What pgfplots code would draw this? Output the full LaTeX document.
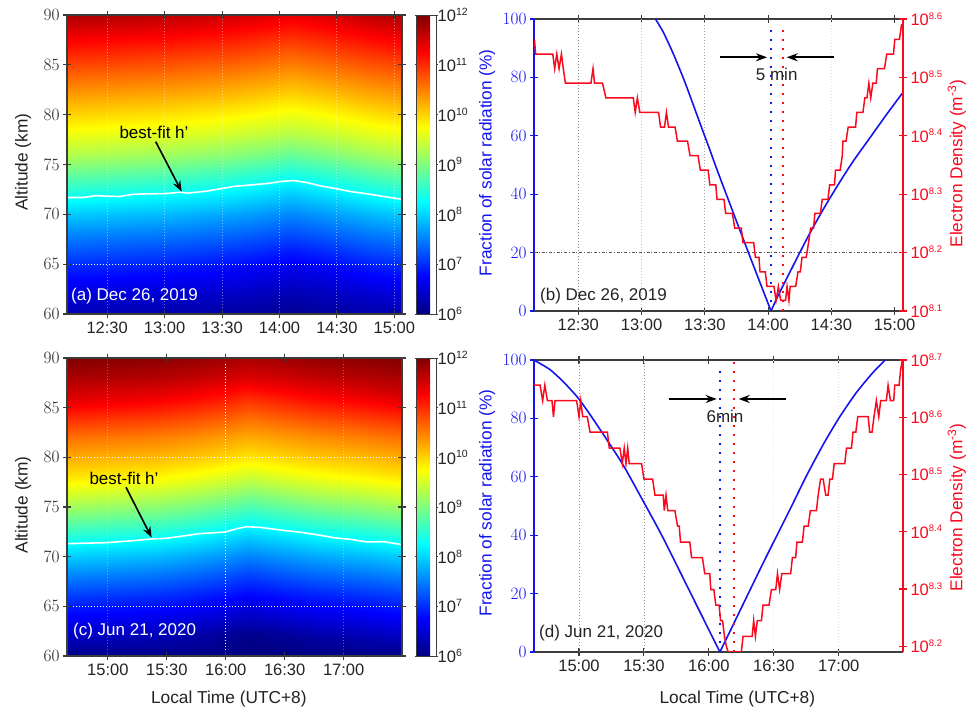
\documentclass[border=0pt]{standalone}
\usepackage{fontspec}
\setmainfont{Liberation Sans}
\usepackage{pgfplots}
\pgfplotsset{compat=1.18}
\usetikzlibrary{arrows.meta}
\definecolor{ink}{RGB}{35,35,35}
\definecolor{frame}{RGB}{60,60,60}
\definecolor{cblue}{RGB}{20,20,240}
\definecolor{cred}{RGB}{250,10,30}
\newcommand{\sx}[1]{10\textsuperscript{\fontsize{10.5}{11}\selectfont #1}}
\newcommand{\sr}[1]{10\textsuperscript{\fontsize{9.5}{10}\selectfont #1}}
\pgfplotsset{
  base/.style={scale only axis, anchor=south west,
    tick align=center, major tick length=8pt,
    every tick label/.append style={font=\fontsize{16.5}{18}\selectfont, text=ink},
    label style={font=\fontsize{17.3}{19}\selectfont},
    tick style={line width=1.1pt, color=frame},
    axis line style={line width=1.3pt, color=frame},
  },
  heat/.style={base, view={0}{90}, colormap/jet, point meta min=6, point meta max=12,
    ymin=60, ymax=90, ytick={60,65,...,90},
    ylabel={Altitude (km)},
    y label style={at={(axis description cs:-0.131,0.508)},anchor=center,text=ink},
    enlargelimits=false, axis on top,
    colorbar,
    colorbar style={scale only axis, at={(1.0418,0)}, anchor=south west, width=20pt,
      ytick={6,7,...,12},
      yticklabels={\sx{6},\sx{7},\sx{8},\sx{9},\sx{10},\sx{11},\sx{12}},
      yticklabel style={font=\fontsize{16.5}{18}\selectfont,text=ink,inner sep=0pt},
      tick align=outside, major tick length=1.5pt,
      axis line style={line width=0.8pt,color=frame}, tick style={line width=0.8pt,color=frame}},
  },
  frac/.style={base, axis y line*=left, xtick pos=both,
    ymin=0, ymax=100, ytick={0,20,...,100},
    ylabel={Fraction of solar radiation (\%)},
    y axis line style={color=cblue,line width=1.5pt},
    y tick style={color=cblue,line width=1.3pt},
    yticklabel style={text=cblue},
    ylabel style={text=cblue},
  },
  dens/.style={base, axis y line*=right, axis x line=none,
    y axis line style={color=cred,line width=1.2pt},
    y tick style={color=cred,line width=1.1pt},
    yticklabel style={text=cred, font=\fontsize{16.5}{18}\selectfont},
    ylabel={Electron Density (m\textsuperscript{-3})},
    ylabel style={text=cred},
  },
  gridf/.style={forget plot, line width=0.8pt, dash pattern=on 1pt off 2pt},
  wdot/.style={forget plot, white, line width=0.9pt, dash pattern=on 1pt off 2pt},
  vdot/.style={forget plot, line width=1.7pt, dash pattern=on 1.7pt off 7.3pt},
  bluecurve/.style={cblue, line width=1.6pt, forget plot, smooth, tension=0.4},
}
\begin{document}
\begin{tikzpicture}[x=1pt,y=1pt]
\path[use as bounding box] (0,0) rectangle (970,707);

% ---------- (a)
\begin{axis}[heat, at={(67pt,393pt)}, width=335pt, height=299pt,
  xmin=9, xmax=184, xtick={30,60,90,120,150,180},
  xticklabels={12:30,13:00,13:30,14:00,14:30,15:00},
  colorbar style={height=299pt}]
\addplot3[surf, shader=interp, mesh/cols=9] table[row sep=\\] {
x y z\\
9 60 6.30\\ 60 60 6.25\\ 90 60 6.20\\ 110 60 6.15\\ 126 60 6.10\\ 142 60 6.15\\ 155 60 6.20\\ 168 60 6.25\\ 184 60 6.30\\
9 62 6.55\\ 60 62 6.48\\ 90 62 6.42\\ 110 62 6.36\\ 126 62 6.30\\ 142 62 6.36\\ 155 62 6.42\\ 168 62 6.48\\ 184 62 6.55\\
9 64 6.85\\ 60 64 6.78\\ 90 64 6.70\\ 110 64 6.62\\ 126 64 6.55\\ 142 64 6.62\\ 155 64 6.70\\ 168 64 6.78\\ 184 64 6.85\\
9 66 7.20\\ 60 66 7.12\\ 90 66 7.03\\ 110 66 6.94\\ 126 66 6.85\\ 142 66 6.94\\ 155 66 7.03\\ 168 66 7.12\\ 184 66 7.20\\
9 68 7.55\\ 60 68 7.47\\ 90 68 7.38\\ 110 68 7.29\\ 126 68 7.20\\ 142 68 7.29\\ 155 68 7.38\\ 168 68 7.47\\ 184 68 7.55\\
9 70 7.95\\ 60 70 7.85\\ 90 70 7.75\\ 110 70 7.65\\ 126 70 7.55\\ 142 70 7.65\\ 155 70 7.75\\ 168 70 7.85\\ 184 70 7.95\\
9 72 8.40\\ 60 72 8.29\\ 90 72 8.18\\ 110 72 8.07\\ 126 72 7.95\\ 142 72 8.07\\ 155 72 8.18\\ 168 72 8.29\\ 184 72 8.40\\
9 74 8.85\\ 60 74 8.74\\ 90 74 8.62\\ 110 74 8.51\\ 126 74 8.40\\ 142 74 8.51\\ 155 74 8.62\\ 168 74 8.74\\ 184 74 8.85\\
9 76 9.30\\ 60 76 9.19\\ 90 76 9.08\\ 110 76 8.97\\ 126 76 8.85\\ 142 76 8.97\\ 155 76 9.08\\ 168 76 9.19\\ 184 76 9.30\\
9 78 9.65\\ 60 78 9.57\\ 90 78 9.48\\ 110 78 9.39\\ 126 78 9.30\\ 142 78 9.39\\ 155 78 9.48\\ 168 78 9.57\\ 184 78 9.65\\
9 80 10.00\\ 60 80 9.91\\ 90 80 9.82\\ 110 80 9.74\\ 126 80 9.65\\ 142 80 9.74\\ 155 80 9.82\\ 168 80 9.91\\ 184 80 10.00\\
9 82 10.33\\ 60 82 10.25\\ 90 82 10.17\\ 110 82 10.08\\ 126 82 10.00\\ 142 82 10.08\\ 155 82 10.17\\ 168 82 10.25\\ 184 82 10.33\\
9 84 10.67\\ 60 84 10.59\\ 90 84 10.50\\ 110 84 10.42\\ 126 84 10.33\\ 142 84 10.42\\ 155 84 10.50\\ 168 84 10.59\\ 184 84 10.67\\
9 86 11.02\\ 60 86 10.93\\ 90 86 10.85\\ 110 86 10.76\\ 126 86 10.67\\ 142 86 10.76\\ 155 86 10.85\\ 168 86 10.93\\ 184 86 11.02\\
9 88 11.36\\ 60 88 11.28\\ 90 88 11.19\\ 110 88 11.10\\ 126 88 11.02\\ 142 88 11.10\\ 155 88 11.19\\ 168 88 11.28\\ 184 88 11.36\\
9 90 11.75\\ 60 90 11.65\\ 90 90 11.55\\ 110 90 11.46\\ 126 90 11.36\\ 142 90 11.46\\ 155 90 11.55\\ 168 90 11.65\\ 184 90 11.75\\
};
\addplot3[wdot] coordinates {(9,65,12)(184,65,12)};
\foreach \tt in {30,60,90,120,150,180}{
  \edef\tmp{\noexpand\addplot3[wdot,opacity=0.45] coordinates {(\tt,60,12)(\tt,90,12)};}\tmp}
\addplot3[forget plot, white, line width=1.6pt] coordinates {
(9.2,71.69,12)(17.4,71.69,12)(23.5,71.86,12)(36.6,71.79,12)(43.6,72.02,12)(61,72.09,12)(68.9,72.22,12)(71.5,72.12,12)(82,72.33,12)(95.9,72.8,12)(113.4,73.09,12)(120.4,73.29,12)(127.3,73.39,12)(134.3,73.19,12)(141.3,72.86,12)(150,72.56,12)(157,72.29,12)(165.7,72.06,12)(174.4,71.79,12)(183.6,71.52,12)};
\end{axis}

% ---------- (c)
\begin{axis}[heat, at={(67pt,51pt)}, width=335pt, height=298pt,
  xmin=39.2, xmax=209.7, xtick={60,90,120,150,180,210},
  xticklabels={15:00,15:30,16:00,16:30,17:00,{}},
  xlabel={Local Time (UTC+8)},
  x label style={at={(axis description cs:0.483,-0.144)},anchor=center,text=ink},
  y label style={at={(axis description cs:-0.131,0.507)},anchor=center,text=ink},
  colorbar style={height=298pt}]
\addplot3[surf, shader=interp, mesh/cols=9] table[row sep=\\] {
x y z\\
39.2 60 6.05\\ 85 60 6.04\\ 105 60 6.02\\ 120 60 6.01\\ 132 60 6.00\\ 148 60 6.01\\ 165 60 6.02\\ 190 60 6.04\\ 209.7 60 6.05\\
39.2 62 6.40\\ 85 62 6.31\\ 105 62 6.22\\ 120 62 6.13\\ 132 62 6.05\\ 148 62 6.13\\ 165 62 6.22\\ 190 62 6.31\\ 209.7 62 6.40\\
39.2 64 6.75\\ 85 64 6.66\\ 105 64 6.58\\ 120 64 6.49\\ 132 64 6.40\\ 148 64 6.49\\ 165 64 6.58\\ 190 64 6.66\\ 209.7 64 6.75\\
39.2 66 7.10\\ 85 66 7.01\\ 105 66 6.92\\ 120 66 6.83\\ 132 66 6.75\\ 148 66 6.83\\ 165 66 6.92\\ 190 66 7.01\\ 209.7 66 7.10\\
39.2 68 7.50\\ 85 68 7.40\\ 105 68 7.30\\ 120 68 7.20\\ 132 68 7.10\\ 148 68 7.20\\ 165 68 7.30\\ 190 68 7.40\\ 209.7 68 7.50\\
39.2 70 7.95\\ 85 70 7.83\\ 105 70 7.72\\ 120 70 7.61\\ 132 70 7.50\\ 148 70 7.61\\ 165 70 7.72\\ 190 70 7.83\\ 209.7 70 7.95\\
39.2 72 8.45\\ 85 72 8.32\\ 105 72 8.20\\ 120 72 8.07\\ 132 72 7.95\\ 148 72 8.07\\ 165 72 8.20\\ 190 72 8.32\\ 209.7 72 8.45\\
39.2 74 8.95\\ 85 74 8.82\\ 105 74 8.70\\ 120 74 8.57\\ 132 74 8.45\\ 148 74 8.57\\ 165 74 8.70\\ 190 74 8.82\\ 209.7 74 8.95\\
39.2 76 9.45\\ 85 76 9.32\\ 105 76 9.20\\ 120 76 9.07\\ 132 76 8.95\\ 148 76 9.07\\ 165 76 9.20\\ 190 76 9.32\\ 209.7 76 9.45\\
39.2 78 9.90\\ 85 78 9.79\\ 105 78 9.68\\ 120 78 9.56\\ 132 78 9.45\\ 148 78 9.56\\ 165 78 9.68\\ 190 78 9.79\\ 209.7 78 9.90\\
39.2 80 10.25\\ 85 80 10.16\\ 105 80 10.08\\ 120 80 9.99\\ 132 80 9.90\\ 148 80 9.99\\ 165 80 10.08\\ 190 80 10.16\\ 209.7 80 10.25\\
39.2 82 10.60\\ 85 82 10.51\\ 105 82 10.42\\ 120 82 10.33\\ 132 82 10.25\\ 148 82 10.33\\ 165 82 10.42\\ 190 82 10.51\\ 209.7 82 10.60\\
39.2 84 11.00\\ 85 84 10.90\\ 105 84 10.80\\ 120 84 10.70\\ 132 84 10.60\\ 148 84 10.70\\ 165 84 10.80\\ 190 84 10.90\\ 209.7 84 11.00\\
39.2 86 11.45\\ 85 86 11.33\\ 105 86 11.22\\ 120 86 11.11\\ 132 86 11.00\\ 148 86 11.11\\ 165 86 11.22\\ 190 86 11.33\\ 209.7 86 11.45\\
39.2 88 11.75\\ 85 88 11.68\\ 105 88 11.60\\ 120 88 11.52\\ 132 88 11.45\\ 148 88 11.52\\ 165 88 11.60\\ 190 88 11.68\\ 209.7 88 11.75\\
39.2 90 12.00\\ 85 90 11.94\\ 105 90 11.88\\ 120 90 11.81\\ 132 90 11.75\\ 148 90 11.81\\ 165 90 11.88\\ 190 90 11.94\\ 209.7 90 12.00\\
};
\addplot3[wdot] coordinates {(39.2,65,12)(209.7,65,12)};
\addplot3[wdot] coordinates {(39.2,80,12)(209.7,80,12)};
\addplot3[wdot] coordinates {(120,60,12)(120,90,12)};
\addplot3[wdot,opacity=0.35] coordinates {(60,60,12)(60,90,12)};
\addplot3[wdot,opacity=0.35] coordinates {(180,60,12)(180,90,12)};
\addplot3[forget plot, white, line width=1.6pt] coordinates {
(39.2,71.31,12)(59.1,71.41,12)(72.8,71.61,12)(82.1,71.78,12)(89.8,71.85,12)(106.8,72.32,12)(119.6,72.48,12)(125.6,72.82,12)(130.7,73.02,12)(137.5,72.95,12)(149.4,72.65,12)(158,72.45,12)(166.5,72.21,12)(175,71.91,12)(183.5,71.74,12)(192,71.48,12)(200.5,71.51,12)(209.6,71.21,12)};
\end{axis}

% ---------- (b)
\begin{axis}[frac, at={(534pt,396pt)}, width=369pt, height=292pt,
  xmin=9, xmax=184, xtick={30,60,90,120,150,180},
  xticklabels={12:30,13:00,13:30,14:00,14:30,15:00},
  y label style={at={(axis description cs:-0.127,0.508)},anchor=center}]
\addplot[gridf,color=gray] coordinates {(30,0)(30,100)};
\addplot[gridf,color=lightgray] coordinates {(60,0)(60,100)};
\addplot[gridf,color=gray!70] coordinates {(90,0)(90,100)};
\addplot[gridf,color=black!10] coordinates {(150,0)(150,100)};
\addplot[forget plot,color=black!65,line width=0.9pt,dash pattern=on 3pt off 1.5pt on 1pt off 2pt] coordinates {(9,20)(184,20)};
\addplot[vdot,color=cblue] coordinates {(121.3,0)(121.3,98)};
\addplot[bluecurve] coordinates {
(66.6,100)(70.3,95.5)(75,88.2)(80.5,78.5)(86.1,67.5)(89.2,61.4)(92.4,55.2)(96.3,47.4)(110,21.3)(121.4,0)};
\addplot[bluecurve] coordinates {
(121.4,0)(125,5.6)(130,12.8)(138.9,25.4)(146,34.6)(153.1,43.1)(160,50.9)(168.1,59.1)(176,67.1)(183.6,74.5)};
\end{axis}
\begin{axis}[dens, at={(534pt,396pt)}, width=369pt, height=292pt,
  xmin=9, xmax=184, ymin=8.1, ymax=8.6, ytick={8.1,8.2,8.3,8.4,8.5,8.6},
  yticklabels={\sr{8.1},\sr{8.2},\sr{8.3},\sr{8.4},\sr{8.5},\sr{8.6}},
  y label style={at={(axis description cs:1.146,0.505)},anchor=center,rotate=0}]
\addplot[vdot,color=cred] coordinates {(127.1,8.1)(127.1,8.59)};
\addplot[cred, line width=1.5pt, forget plot] coordinates {
(9.2,8.565)(9.8,8.54)(17.9,8.54)(18.8,8.515)(19.8,8.54)(20.9,8.515)(22,8.54)(22.9,8.515)(23.9,8.49)(36,8.49)(37,8.515)(37.7,8.49)(41.5,8.49)(43.1,8.465)(56.1,8.465)(57,8.44)(58,8.465)(59.2,8.44)(68.1,8.44)(69,8.415)(70.9,8.415)(71.8,8.44)(72.8,8.415)(75.9,8.415)(77,8.391)(81.8,8.391)(83,8.366)(86.8,8.366)(87.9,8.341)(91.6,8.341)(92.4,8.316)(95.2,8.316)(95.8,8.291)(99.1,8.291)(99.9,8.267)(103.1,8.267)(104.2,8.242)(107.3,8.242)(108.1,8.217)(113.2,8.217)(114,8.192)(115.7,8.192)(116.2,8.167)(118.7,8.167)(119.5,8.142)(122.8,8.142)(123.8,8.118)(124.9,8.142)(126,8.118)(127.1,8.118)(128.3,8.118)(129,8.142)(129.9,8.118)(130.5,8.142)(133.1,8.142)(134.2,8.167)(135.3,8.167)(136.1,8.192)(138.1,8.192)(139.2,8.217)(140.2,8.242)(141.6,8.242)(142.2,8.267)(144.8,8.267)(145.7,8.291)(148.4,8.291)(149.2,8.316)(151.5,8.316)(152,8.341)(154.2,8.341)(155.2,8.366)(155.5,8.391)(157,8.391)(158,8.415)(161.5,8.415)(162.1,8.44)(165,8.44)(165.9,8.465)(166.9,8.465)(167.8,8.49)(168.7,8.465)(169.7,8.49)(171.3,8.49)(171.9,8.515)(175.2,8.515)(176.3,8.54)(179.5,8.54)(180.1,8.565)(182.3,8.565)(183.3,8.59)(183.9,8.59)};
\end{axis}

% ---------- (d)
\begin{axis}[frac, at={(534pt,55pt)}, width=369pt, height=292pt,
  xmin=39.2, xmax=209.7, xtick={60,90,120,150,180,210},
  xticklabels={15:00,15:30,16:00,16:30,17:00,{}},
  xlabel={Local Time (UTC+8)},
  x label style={at={(axis description cs:0.551,-0.161)},anchor=center,text=ink},
  y label style={at={(axis description cs:-0.127,0.51)},anchor=center}]
\addplot[gridf,color=gray!90] coordinates {(60,0)(60,100)};
\addplot[gridf,color=gray!90] coordinates {(90,0)(90,100)};
\addplot[gridf,color=black!8] coordinates {(150,0)(150,100)};
\addplot[gridf,color=black!12] coordinates {(180,0)(180,100)};
\addplot[vdot,color=cblue] coordinates {(125.1,0)(125.1,98)};
\addplot[bluecurve] coordinates {
(39.2,100)(46.6,96.7)(52.8,92.5)(60,86.6)(68.2,77.9)(80,64.5)(89.7,51.6)(98.9,39)(112,19.5)(125.1,0)};
\addplot[bluecurve] coordinates {
(125.1,0)(129.7,7)(145.1,30.5)(157.4,48.7)(165,60.2)(172.8,71)(180,80)(188,88.7)(195.8,95.7)(201.5,100)};
\end{axis}
\begin{axis}[dens, at={(534pt,55pt)}, width=369pt, height=292pt,
  xmin=39.2, xmax=209.7, ymin=8.19, ymax=8.7, ytick={8.2,8.3,8.4,8.5,8.6,8.7},
  yticklabels={\sr{8.2},\sr{8.3},\sr{8.4},\sr{8.5},\sr{8.6},\sr{8.7}},
  y label style={at={(axis description cs:1.146,0.495)},anchor=center,rotate=0}]
\addplot[vdot,color=cred] coordinates {(131.7,8.19)(131.7,8.7)};
\addplot[cred, line width=1.5pt, forget plot] coordinates {
(39.2,8.656)(42,8.656)(43.2,8.629)(44.2,8.656)(45.4,8.629)(47.5,8.629)(48.2,8.601)(48.9,8.629)(58.9,8.629)(60,8.601)(60.8,8.629)(61.7,8.601)(63.8,8.601)(65.1,8.574)(73.1,8.574)(74,8.546)(78.9,8.546)(80,8.519)(80.9,8.546)(81.7,8.519)(82.5,8.546)(83.2,8.519)(88.9,8.519)(90,8.492)(94,8.492)(95.1,8.464)(98.9,8.464)(99.4,8.437)(100.2,8.464)(101,8.437)(104.3,8.437)(105.5,8.41)(106.3,8.41)(106.9,8.382)(111.2,8.382)(112,8.355)(117,8.355)(118.1,8.327)(120.4,8.327)(120.9,8.299)(122.3,8.299)(123.2,8.272)(124.7,8.272)(125.4,8.245)(126.3,8.245)(127.2,8.2175)(128.1,8.2)(128.9,8.19)(135,8.19)(135.8,8.2175)(140,8.2175)(140.7,8.245)(141.5,8.2175)(142.4,8.245)(144.3,8.245)(145,8.272)(147.8,8.272)(148.9,8.299)(150.9,8.299)(151.7,8.327)(152.7,8.299)(153.7,8.327)(157.8,8.327)(158.6,8.355)(160.1,8.355)(160.7,8.382)(163.2,8.382)(164,8.41)(165.9,8.41)(166.9,8.437)(169.7,8.437)(170.5,8.464)(171.6,8.492)(172.8,8.492)(174,8.464)(175.1,8.464)(175.9,8.492)(177.1,8.492)(177.9,8.519)(182.8,8.519)(183.6,8.546)(185.9,8.546)(186.6,8.574)(187.9,8.574)(188.8,8.601)(193.6,8.601)(194.3,8.574)(195.4,8.574)(196.3,8.601)(197.4,8.629)(198.5,8.601)(199.4,8.629)(202,8.629)(202.8,8.656)(203.9,8.629)(205.4,8.629)(205.9,8.656)(207.9,8.656)(208.6,8.683)(209.4,8.7)};
\end{axis}

% ---------- annotations (picture coordinates: y = 707 - image y)
\tikzset{lab/.style={font=\fontsize{17}{19}\selectfont, inner sep=0pt, anchor=west},
  arr/.style={black, line width=1.6pt, -{Stealth[length=11pt,width=8pt]}}}
\node[lab,white] at (71,411) {(a) Dec 26, 2019};
\node[lab,white] at (73,76) {(c) Jun 21, 2020};
\node[lab,text=ink] at (540,411) {(b) Dec 26, 2019};
\node[lab,text=ink] at (539,74) {(d) Jun 21, 2020};
\node[lab,black,anchor=center] at (154,575) {best-fit h’};
\node[lab,black,anchor=center] at (124,229) {best-fit h’};
\draw[arr] (155.7,565.3) -- (181.7,515.3);
\draw[arr] (126,219.7) -- (151.7,169.3);
\draw[arr] (720,649.7) -- (767,649.7);
\draw[arr] (834,649.7) -- (786.7,649.7);
\node[lab,text=ink,anchor=center] at (776.7,633) {5 min};
\draw[arr] (668.7,308) -- (716.7,308);
\draw[arr] (785.7,308) -- (738.7,308);
\node[lab,text=ink,anchor=center] at (725,291) {6min};
\end{tikzpicture}
\end{document}
